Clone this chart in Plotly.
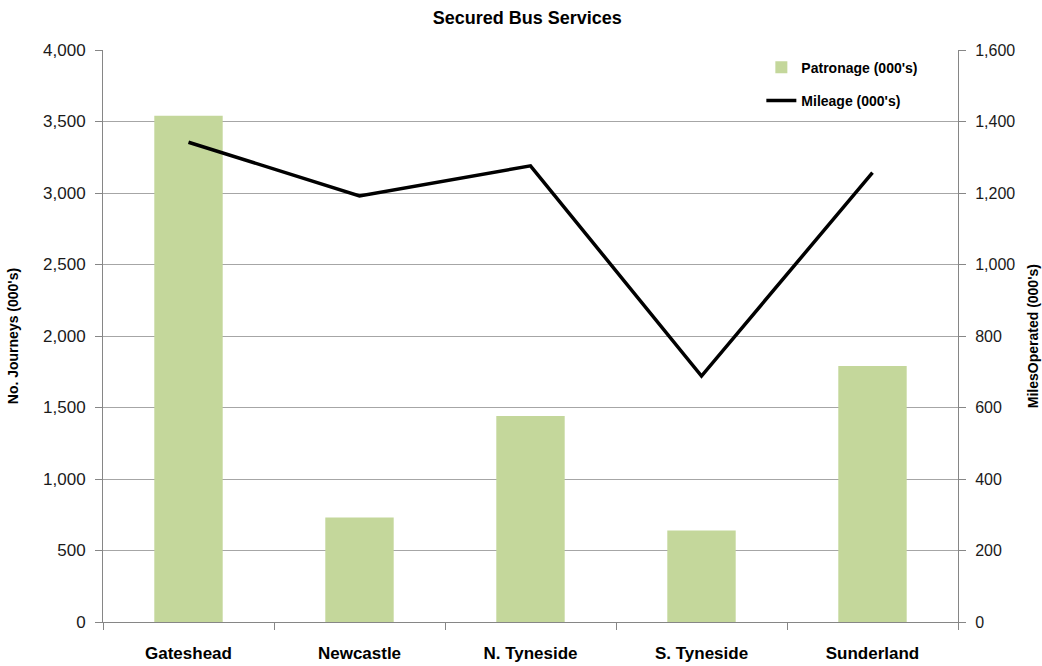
import plotly.graph_objects as go

districts = ["Gateshead", "Newcastle", "N. Tyneside", "S. Tyneside", "Sunderland"]
patronage = [3540, 730, 1440, 640, 1790]      # journeys, 000's
mileage = [1342, 1192, 1276, 688, 1257]        # miles operated, 000's

left_ticks = list(range(0, 4001, 500))
right_ticks = list(range(0, 1601, 200))

narrow = "Liberation Sans Narrow, Arial Narrow, Arial, sans-serif"
regular = "Liberation Sans, Arial, sans-serif"

fig = go.Figure()
fig.add_trace(go.Bar(
    x=districts, y=patronage, name="Patronage (000's)",
    marker=dict(color="#c4d79b", line=dict(width=0)),
    yaxis="y", legendgroup="a",
))
fig.add_trace(go.Scatter(
    x=districts, y=mileage, name="Mileage (000's)",
    mode="lines", line=dict(color="black", width=3.5),
    yaxis="y2", legendgroup="b",
))

fig.update_layout(
    width=1042, height=666,
    margin=dict(l=103, r=84, t=50, b=44, autoexpand=False),
    paper_bgcolor="white", plot_bgcolor="white",
    bargap=0.6,
    showlegend=True,
    legend=dict(
        x=0.77, y=0.997, xanchor="left", yanchor="top",
        font=dict(family=narrow, size=14, color="black", weight="bold"),
        bgcolor="rgba(0,0,0,0)", tracegroupgap=12, itemwidth=30,
    ),
    title=dict(
        text="<b>Secured Bus Services</b>", x=0.506, xanchor="center",
        y=0.973, yanchor="middle",
        font=dict(family=narrow, size=18, color="black"),
    ),
    xaxis=dict(
        type="category", tickson="boundaries", ticks="outside", ticklen=7,
        tickcolor="#868686", showline=True, linecolor="#868686", linewidth=1,
        showgrid=False, ticklabelstandoff=16, automargin=False,
        tickfont=dict(family=narrow, size=17, color="black", weight="bold"),
    ),
    yaxis=dict(
        range=[0, 4000], tickvals=left_ticks, tickformat=",d",
        ticks="outside", ticklen=7, tickcolor="#868686",
        showline=True, linecolor="#868686", linewidth=1,
        showgrid=True, gridcolor="#a6a6a6", gridwidth=1,
        zeroline=False, ticklabelstandoff=6, automargin=False,
        tickfont=dict(family=regular, size=17, color="#1a1a1a"),
    ),
    yaxis2=dict(
        range=[0, 1600], tickvals=right_ticks, tickformat=",d",
        overlaying="y", side="right",
        ticks="outside", ticklen=7, tickcolor="#868686",
        showline=True, linecolor="#868686", linewidth=1,
        showgrid=False, zeroline=False, ticklabelstandoff=6, automargin=False,
        tickfont=dict(family=regular, size=16, color="#1a1a1a"),
    ),
)

fig.add_annotation(
    text="<b>No. Journeys (000's)</b>", xref="paper", yref="paper",
    x=-0.105, y=0.5, xanchor="center", yanchor="middle", textangle=-90,
    showarrow=False, font=dict(family=narrow, size=14, color="black"),
)
fig.add_annotation(
    text="<b>MilesOperated (000's)</b>", xref="paper", yref="paper",
    x=1.088, y=0.5, xanchor="center", yanchor="middle", textangle=-90,
    showarrow=False, font=dict(family=narrow, size=14, color="black"),
)

fig.write_html("out.html")
